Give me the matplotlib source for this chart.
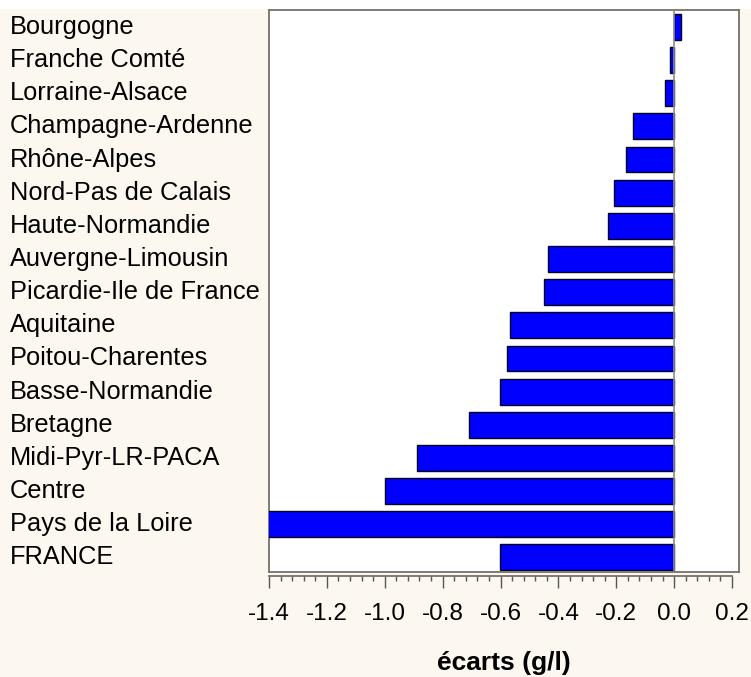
import matplotlib.pyplot as plt
import matplotlib.patches as mpatches
import matplotlib.transforms as mtrans
from matplotlib.ticker import MultipleLocator

regions = [
    "Bourgogne", "Franche Comté", "Lorraine-Alsace", "Champagne-Ardenne",
    "Rhône-Alpes", "Nord-Pas de Calais", "Haute-Normandie", "Auvergne-Limousin",
    "Picardie-Ile de France", "Aquitaine", "Poitou-Charentes", "Basse-Normandie",
    "Bretagne", "Midi-Pyr-LR-PACA", "Centre", "Pays de la Loire", "FRANCE",
]
ecarts = [
    0.025, -0.016, -0.030, -0.141, -0.167, -0.207, -0.228, -0.436,
    -0.450, -0.567, -0.578, -0.602, -0.709, -0.889, -1.000, -1.420, -0.601,
]
xticks = [-1.4, -1.2, -1.0, -0.8, -0.6, -0.4, -0.2, 0.0, 0.2]

plt.rcParams["font.family"] = ["Liberation Sans", "DejaVu Sans"]
plt.rcParams["axes.unicode_minus"] = False

W, H = 751, 677
fig = plt.figure(figsize=(W / 100, H / 100), dpi=100, facecolor="#fcf8f0")
# white strip at the very top
fig.patches.append(mpatches.Rectangle((0, 1 - 9 / H), 1, 9 / H, transform=fig.transFigure,
                                      facecolor="white", edgecolor="none", zorder=0))

ax = fig.add_axes([269 / W, 1 - 572 / H, (739 - 269) / W, (572 - 10) / H])
ax.set_facecolor("white")

y = list(range(len(regions)))
ax.barh(y, ecarts, height=0.78, color="#0000ff", edgecolor="#000020", linewidth=1.0, zorder=3)
ax.axvline(0, color="#8c8c8c", linewidth=1.2, zorder=4)

ax.set_xlim(-1.4, 0.224)
ax.set_ylim(len(regions) - 1 + 0.44, -0.51)
ax.set_yticks([])

# region labels, left aligned at the figure edge
lab_tr = mtrans.blended_transform_factory(fig.transFigure, ax.transData)
for yi, name in zip(y, regions):
    ax.text(10 / W, yi, name, transform=lab_tr, ha="left", va="center",
            fontsize=18.3, color="black", clip_on=False)

ax.set_xticks(xticks)
ax.set_xticklabels([f"{t:.1f}" for t in xticks])
ax.xaxis.set_minor_locator(MultipleLocator(0.04))
ax.tick_params(axis="x", which="major", direction="out", length=8.6, width=1,
               color="#555555", pad=11, labelsize=17.5)
ax.tick_params(axis="x", which="minor", direction="out", length=3.6, width=1, color="#555555")

for s in ax.spines.values():
    s.set_color("#76706a")
    s.set_linewidth(1.3)
ax.spines["bottom"].set_position(("outward", 3))
ax.spines["bottom"].set_bounds(-1.4, 0.2)
ax.axhline(len(regions) - 1 + 0.44, color="#76706a", linewidth=1.3, clip_on=False, zorder=5)

# axis title
fig.text(504 / W, 1 - 663 / H, "écarts (g/l)", ha="center", va="center",
         fontsize=19, fontweight="bold")

fig.savefig("out.png", dpi=100, facecolor=fig.get_facecolor())
